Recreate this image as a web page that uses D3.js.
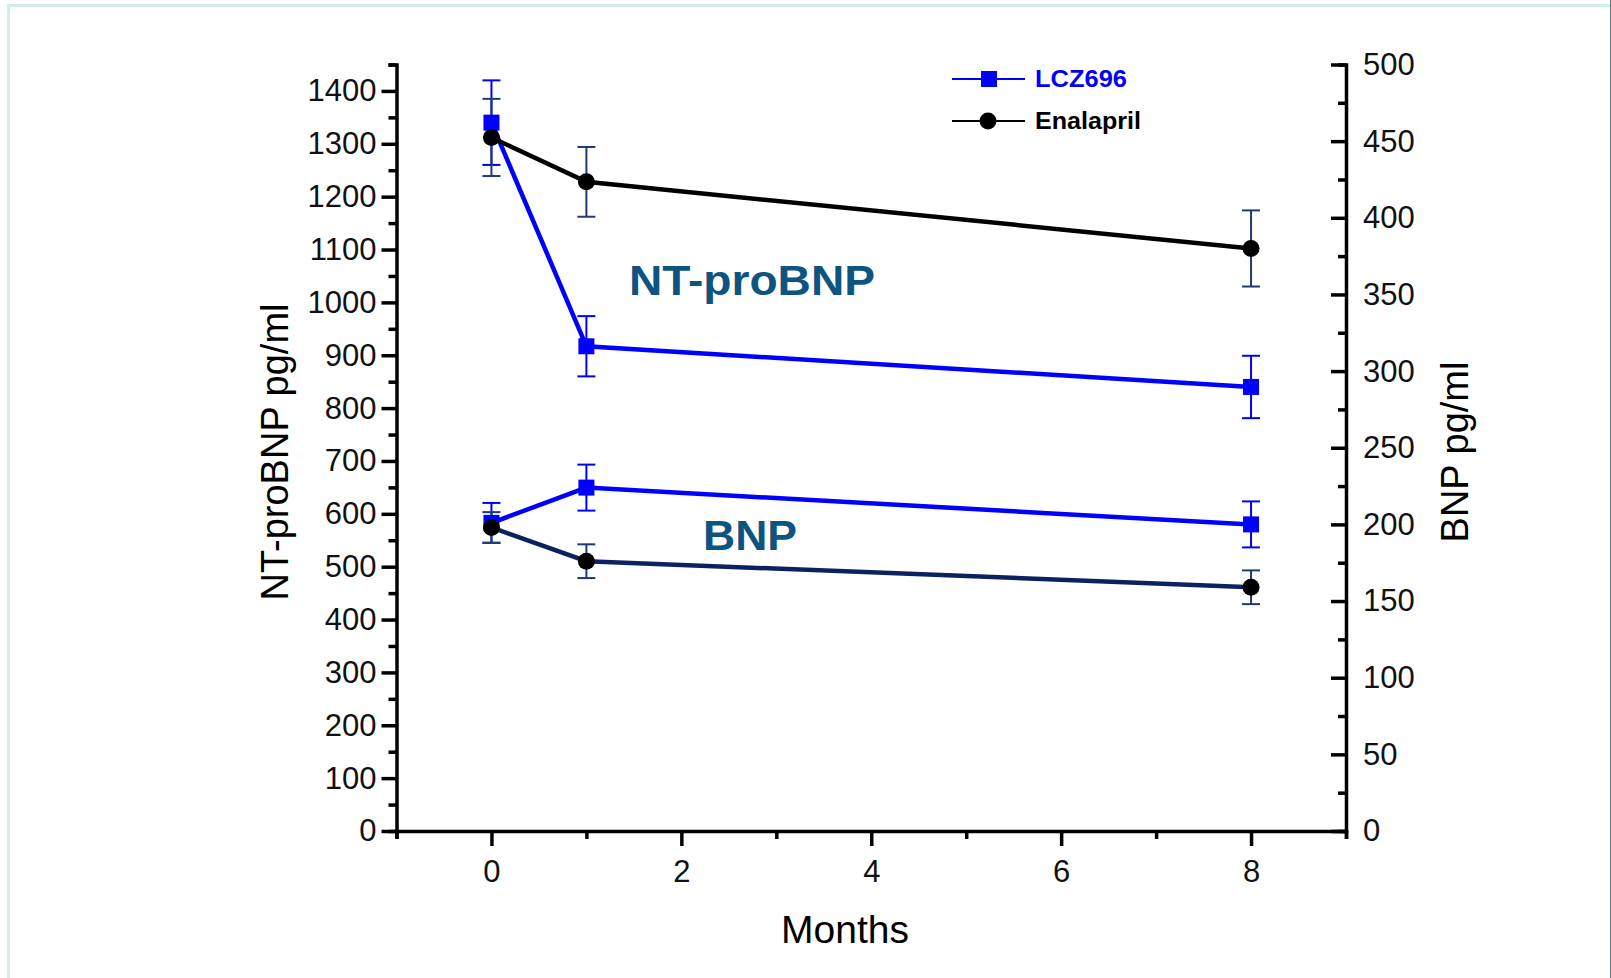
<!DOCTYPE html>
<html>
<head>
<meta charset="utf-8">
<script src="https://cdn.jsdelivr.net/npm/d3@7"></script>
<style>
  body { margin: 0; background: #fff; }
  text { font-family: "Liberation Sans", Arial, sans-serif; }
</style>
</head>
<body>
<div id="wrapper"></div>
<script>
// months of follow-up
const months = [0, 1, 8];

// NT-proBNP (left axis, pg/ml)
const ntLcz = [1340, 917, 840];
const ntLczErr = [80, 57, 59];
const ntEna = [1312, 1228, 1102];
const ntEnaErr = [73, 66, 72];

// BNP (right axis, pg/ml)
const bnpLcz = [201, 224, 200];
const bnpLczErr = [13, 15, 15];
const bnpEna = [198, 176, 159];
const bnpEnaErr = [10, 11, 11];

const xMajor = [0, 2, 4, 6, 8];
const xMinor = [-1, 1, 3, 5, 7, 9];
const leftMajor = d3.range(0, 1401, 100);
const leftMinor = d3.range(50, 1451, 100);
const rightMajor = d3.range(0, 501, 50);
const rightMinor = d3.range(25, 500, 50);

const seriesNames = ["LCZ696", "Enalapril"];

var dimension = {
  width: 1611,
  height: 978,
  margin: { top: 64.5, right: 265, bottom: 147, left: 396.5 }
}
dimension.boundedWidth = dimension.width - dimension.margin.left - dimension.margin.right;
dimension.boundedHeight = dimension.height - dimension.margin.top - dimension.margin.bottom;

const svg = d3.select("#wrapper")
  .append("svg")
  .attr("width", dimension.width)
  .attr("height", dimension.height);

// page frame
svg.append("rect")
  .attr("x", 8.5).attr("y", 5.5)
  .attr("width", 1640).attr("height", 1000)
  .attr("fill", "none")
  .attr("stroke", "#d5eaed")
  .attr("stroke-width", 3);
svg.append("line")
  .attr("x1", 1610.5).attr("x2", 1610.5)
  .attr("y1", 0).attr("y2", 978)
  .attr("stroke", "#607b7b")
  .attr("stroke-width", 1);

const bounds = svg.append("g")
  .attr("transform", `translate(${dimension.margin.left},${dimension.margin.top})`);

const x = d3.scaleLinear().domain([-1, 9]).range([0, dimension.boundedWidth]);
const yL = d3.scaleLinear().domain([0, 1450]).range([dimension.boundedHeight, 0]);
const yR = d3.scaleLinear().domain([0, 500]).range([dimension.boundedHeight, 0]);

function styleAxis(g) {
  g.selectAll("path, line").attr("stroke", "#000").attr("stroke-width", 3.5);
  g.selectAll("text").attr("font-size", 31).attr("fill", "#111")
    .attr("font-family", "'Liberation Sans', Arial, sans-serif");
}

// minor ticks first, majors on top
bounds.append("g")
  .call(d3.axisLeft(yL).tickValues(leftMinor).tickSize(8).tickFormat(""))
  .call(styleAxis);
bounds.append("g")
  .call(d3.axisLeft(yL).tickValues(leftMajor).tickSize(15).tickPadding(5).tickFormat(d3.format("d")))
  .call(styleAxis)
  .call(g => g.select(".domain").remove());

bounds.append("g")
  .attr("transform", `translate(${dimension.boundedWidth},0)`)
  .call(d3.axisRight(yR).tickValues(rightMinor).tickSize(-8).tickFormat(""))
  .call(styleAxis);
bounds.append("g")
  .attr("transform", `translate(${dimension.boundedWidth},0)`)
  .call(d3.axisRight(yR).tickValues(rightMajor).tickSize(-15).tickPadding(17))
  .call(styleAxis)
  .call(g => g.select(".domain").remove());

bounds.append("g")
  .attr("transform", `translate(0,${dimension.boundedHeight})`)
  .call(d3.axisBottom(x).tickValues(xMinor).tickSize(8).tickFormat(""))
  .call(styleAxis);
bounds.append("g")
  .attr("transform", `translate(0,${dimension.boundedHeight})`)
  .call(d3.axisBottom(x).tickValues(xMajor).tickSize(15).tickPadding(14))
  .call(styleAxis)
  .call(g => g.select(".domain").remove());

// axis titles
svg.append("text")
  .attr("transform", "translate(288,452) rotate(-90)")
  .attr("text-anchor", "middle")
  .attr("font-size", 38)
  .text("NT-proBNP pg/ml");
svg.append("text")
  .attr("transform", "translate(1468,452) rotate(-90)")
  .attr("text-anchor", "middle")
  .attr("font-size", 38)
  .text("BNP pg/ml");
svg.append("text")
  .attr("x", 845).attr("y", 943)
  .attr("text-anchor", "middle")
  .attr("font-size", 39)
  .text("Months");

// build series
const series = [
  { vals: ntLcz, err: ntLczErr, y: yL, line: "#0000ff", bar: "#0000ff", shape: "square" },
  { vals: ntEna, err: ntEnaErr, y: yL, line: "#000000", bar: "#1f3a73", shape: "circle" },
  { vals: bnpLcz, err: bnpLczErr, y: yR, line: "#0000ff", bar: "#0000ff", shape: "square" },
  { vals: bnpEna, err: bnpEnaErr, y: yR, line: "#0c2260", bar: "#1f3a73", shape: "circle" }
].map(s => {
  s.points = months.map((m, i) => ({ m: m, v: s.vals[i], e: s.err[i] }));
  return s;
});

series.forEach(s => {
  const line = d3.line().x(d => x(d.m)).y(d => s.y(d.v));
  bounds.append("path")
    .datum(s.points)
    .attr("d", line)
    .attr("fill", "none")
    .attr("stroke", s.line)
    .attr("stroke-width", 4.5);
});

series.forEach(s => {
  const eb = bounds.append("g").attr("stroke", s.bar).attr("stroke-width", 2);
  eb.selectAll("line.v").data(s.points).enter().append("line")
    .attr("class", "v")
    .attr("x1", d => x(d.m)).attr("x2", d => x(d.m))
    .attr("y1", d => s.y(d.v + d.e)).attr("y2", d => s.y(d.v - d.e));
  [1, -1].forEach(sign => {
    eb.selectAll("line.cap" + (sign > 0 ? "t" : "b")).data(s.points).enter().append("line")
      .attr("x1", d => x(d.m) - 9).attr("x2", d => x(d.m) + 9)
      .attr("y1", d => s.y(d.v + sign * d.e)).attr("y2", d => s.y(d.v + sign * d.e));
  });
});

// markers: squares first, circles on top
series.filter(s => s.shape === "square").forEach(s => {
  bounds.selectAll(null).data(s.points).enter().append("rect")
    .attr("x", d => x(d.m) - 8).attr("y", d => s.y(d.v) - 8)
    .attr("width", 16).attr("height", 16)
    .attr("fill", "#0000ff");
});
series.filter(s => s.shape === "circle").forEach(s => {
  bounds.selectAll(null).data(s.points).enter().append("circle")
    .attr("cx", d => x(d.m)).attr("cy", d => s.y(d.v))
    .attr("r", 8.5)
    .attr("fill", "#000");
});

// annotations
svg.append("text")
  .attr("x", 629).attr("y", 295)
  .attr("font-size", 42).attr("font-weight", "bold")
  .attr("fill", "#0d5580")
  .attr("textLength", 246).attr("lengthAdjust", "spacingAndGlyphs")
  .text("NT-proBNP");
svg.append("text")
  .attr("x", 703).attr("y", 550)
  .attr("font-size", 42).attr("font-weight", "bold")
  .attr("fill", "#0d5580")
  .attr("textLength", 94).attr("lengthAdjust", "spacingAndGlyphs")
  .text("BNP");

// legend
const legend = svg.append("g");
const legendY = [79, 121];
const legendColor = ["#0000ff", "#000"];
const legendWidth = [92, 106];
seriesNames.forEach((name, i) => {
  legend.append("line")
    .attr("x1", 952).attr("x2", 1025)
    .attr("y1", legendY[i]).attr("y2", legendY[i])
    .attr("stroke", legendColor[i]).attr("stroke-width", 2);
  if (i === 0) {
    legend.append("rect")
      .attr("x", 981).attr("y", legendY[i] - 8)
      .attr("width", 16).attr("height", 16)
      .attr("fill", "#0000ff");
  } else {
    legend.append("circle")
      .attr("cx", 988).attr("cy", legendY[i]).attr("r", 8.5)
      .attr("fill", "#000");
  }
  legend.append("text")
    .attr("x", 1035).attr("y", legendY[i] + 8)
    .attr("font-size", 24).attr("font-weight", "bold")
    .attr("fill", legendColor[i])
    .attr("textLength", legendWidth[i]).attr("lengthAdjust", "spacingAndGlyphs")
    .text(name);
});
</script>
</body>
</html>
